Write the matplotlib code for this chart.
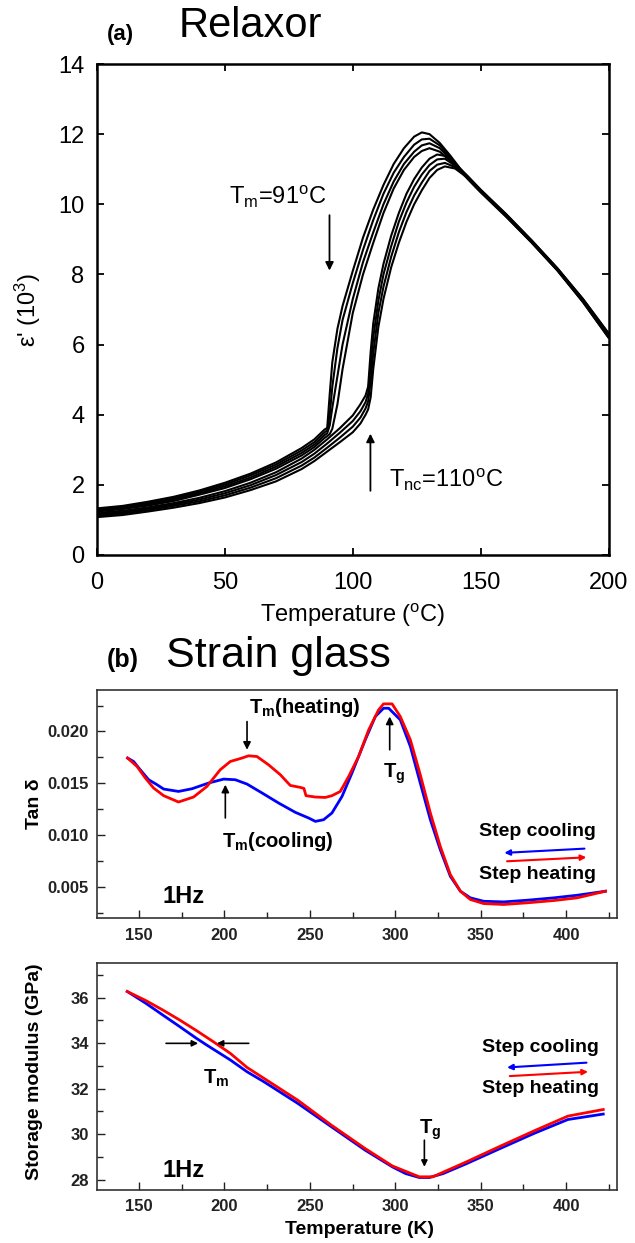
import matplotlib
matplotlib.use('Agg')
import matplotlib.pyplot as plt
from matplotlib.ticker import MultipleLocator, FormatStrFormatter

plt.rcParams['font.family'] = ['Liberation Sans', 'DejaVu Sans']
plt.rcParams['mathtext.fontset'] = 'custom'
plt.rcParams['mathtext.rm'] = 'Liberation Sans'
plt.rcParams['mathtext.it'] = 'Liberation Sans:italic'
plt.rcParams['mathtext.bf'] = 'Liberation Sans:bold'
plt.rcParams['mathtext.default'] = 'rm'

# ---- (a) relaxor: eps' vs T, two groups of frequency curves ----
T_up = [0, 10, 20, 30, 40, 50, 60, 70, 80, 85, 89, 90, 91, 92, 94, 96, 100, 104, 108, 112,
        116, 120, 124, 127, 130, 134, 138, 142, 146, 150, 160, 170, 180, 190, 200]
U1 = [1.33, 1.40, 1.52, 1.66, 1.84, 2.06, 2.32, 2.64, 3.05, 3.30, 3.58, 3.62, 4.60, 5.50, 6.45,
      7.10, 8.10, 9.05, 9.85, 10.55, 11.15, 11.60, 11.93, 12.05, 12.00, 11.75, 11.40, 11.02,
      10.70, 10.40, 9.70, 8.96, 8.17, 7.30, 6.32]
U2 = [1.30, 1.37, 1.48, 1.62, 1.80, 2.01, 2.27, 2.58, 2.98, 3.22, 3.50, 3.55, 4.00, 4.80, 5.90,
      6.70, 7.75, 8.70, 9.55, 10.30, 10.90, 11.35, 11.70, 11.85, 11.87, 11.68, 11.35, 11.00,
      10.68, 10.38, 9.68, 8.94, 8.15, 7.27, 6.28]
U3 = [1.27, 1.34, 1.45, 1.58, 1.76, 1.96, 2.21, 2.52, 2.91, 3.15, 3.42, 3.47, 3.70, 4.20, 5.10,
      6.00, 7.30, 8.35, 9.20, 10.00, 10.65, 11.15, 11.50, 11.68, 11.74, 11.60, 11.30, 10.98,
      10.66, 10.36, 9.66, 8.92, 8.13, 7.24, 6.24]
U4 = [1.24, 1.31, 1.41, 1.54, 1.72, 1.91, 2.16, 2.46, 2.84, 3.08, 3.34, 3.39, 3.45, 3.60, 4.30,
      5.30, 6.90, 8.00, 8.90, 9.75, 10.45, 10.98, 11.35, 11.52, 11.60, 11.50, 11.25, 10.95,
      10.64, 10.34, 9.64, 8.90, 8.11, 7.21, 6.20]

T_lo = [0, 10, 20, 30, 40, 50, 60, 70, 80, 85, 90, 95, 100, 103, 105, 106, 107, 108, 110, 112,
        115, 118, 121, 124, 127, 130, 133, 136, 140, 145, 150, 160, 170, 180, 190, 200]
L1 = [1.20, 1.26, 1.36, 1.48, 1.63, 1.82, 2.06, 2.36, 2.75, 3.00, 3.30, 3.62, 3.98, 4.30, 4.55,
      4.80, 5.80, 6.60, 7.60, 8.30, 9.10, 9.75, 10.30, 10.72, 11.05, 11.30, 11.42, 11.38, 11.15,
      10.80, 10.42, 9.72, 8.97, 8.18, 7.30, 6.32]
L2 = [1.16, 1.22, 1.32, 1.44, 1.58, 1.76, 1.99, 2.28, 2.65, 2.89, 3.18, 3.49, 3.82, 4.10, 4.36,
      4.60, 5.40, 6.20, 7.25, 8.00, 8.80, 9.50, 10.05, 10.50, 10.85, 11.12, 11.28, 11.30, 11.10,
      10.78, 10.40, 9.70, 8.95, 8.16, 7.27, 6.28]
L3 = [1.12, 1.18, 1.28, 1.40, 1.53, 1.70, 1.92, 2.19, 2.55, 2.78, 3.06, 3.35, 3.66, 3.92, 4.18,
      4.38, 4.95, 5.75, 6.90, 7.65, 8.50, 9.20, 9.78, 10.25, 10.62, 10.95, 11.13, 11.18, 11.06,
      10.77, 10.39, 9.68, 8.93, 8.14, 7.24, 6.24]
L4 = [1.08, 1.14, 1.24, 1.35, 1.48, 1.64, 1.85, 2.10, 2.45, 2.68, 2.95, 3.22, 3.50, 3.75, 4.00,
      4.15, 4.50, 5.30, 6.50, 7.30, 8.20, 8.90, 9.50, 10.00, 10.40, 10.75, 10.98, 11.08, 11.02,
      10.75, 10.38, 9.66, 8.91, 8.12, 7.22, 6.20]

# ---- (b) strain glass: tan delta ----
T_cool_tan = [143.3, 146.8, 150.7, 155.6, 160.5, 164.4, 173.1, 181.0, 190.7, 199.5, 206.3, 213.2,
              222.0, 231.7, 241.5, 249.2, 253.2, 258.0, 262.9, 268.8, 274.6, 282.4, 288.3, 293.1,
              296.1, 302.9, 308.8, 314.6, 320.5, 326.3, 332.2, 338.1, 343.9, 351.7, 363.4, 377.1,
              392.7, 406.4, 423.0]
tan_cool = [0.01743, 0.01710, 0.01630, 0.01534, 0.01486, 0.01444, 0.01421, 0.01447, 0.01502,
            0.01540, 0.01534, 0.01492, 0.01406, 0.01309, 0.01219, 0.01165, 0.01132, 0.01148,
            0.01213, 0.01373, 0.01598, 0.01919, 0.02144, 0.02224, 0.02224, 0.02112, 0.01855,
            0.01502, 0.01148, 0.00859, 0.00602, 0.00458, 0.00394, 0.00361, 0.00355, 0.00371,
            0.00394, 0.00419, 0.00458]
T_heat_tan = [143.3, 148.8, 153.7, 158.5, 164.4, 173.1, 181.9, 189.7, 197.5, 203.4, 210.2, 214.1,
              219.0, 225.8, 232.7, 238.5, 244.4, 246.5, 247.7, 253.2, 259.0, 262.9, 267.8, 272.7,
              278.5, 284.4, 290.2, 293.1, 298.1, 302.9, 308.8, 314.6, 320.5, 326.3, 332.2, 338.1,
              343.9, 351.7, 363.4, 377.1, 392.7, 406.4, 423.0]
tan_heat = [0.01743, 0.01662, 0.01550, 0.01454, 0.01380, 0.01319, 0.01367, 0.01469, 0.01630,
            0.01710, 0.01743, 0.01765, 0.01758, 0.01678, 0.01582, 0.01479, 0.01460, 0.01450,
            0.01380, 0.01367, 0.01363, 0.01380, 0.01421, 0.01566, 0.01758, 0.02015, 0.02208,
            0.02266, 0.02266, 0.02144, 0.01919, 0.01582, 0.01213, 0.00891, 0.00618, 0.00458,
            0.00378, 0.00339, 0.00330, 0.00346, 0.00368, 0.00394, 0.00458]

# ---- (b) strain glass: storage modulus ----
T_cool_E = [143.1, 154.0, 163.8, 173.7, 183.6, 189.5, 203.4, 213.2, 223.1, 242.9, 262.6, 282.4,
            298.2, 306.1, 314.0, 320.0, 327.9, 341.7, 361.5, 381.2, 401.0, 421.7]
E_cool = [36.27, 35.75, 35.24, 34.73, 34.21, 33.92, 33.26, 32.74, 32.30, 31.35, 30.32, 29.29,
          28.56, 28.26, 28.09, 28.09, 28.26, 28.70, 29.37, 30.03, 30.64, 30.88]
T_heat_E = [143.1, 154.0, 163.8, 173.7, 183.6, 193.5, 203.4, 213.2, 223.1, 242.9, 262.6, 282.4,
            298.2, 314.0, 321.9, 341.7, 361.5, 381.2, 401.0, 421.7]
E_heat = [36.27, 35.87, 35.46, 35.02, 34.55, 34.06, 33.55, 32.93, 32.45, 31.49, 30.39, 29.36,
          28.60, 28.12, 28.12, 28.78, 29.47, 30.14, 30.79, 31.08]

BLUE = '#0000ff'
RED = '#ff0000'


def arrow(ax, tail, head, color='k', lw=1.2, ms=11):
    ax.annotate('', xy=head, xytext=tail,
                arrowprops=dict(arrowstyle='-|>', color=color, lw=lw,
                                mutation_scale=ms, shrinkA=0, shrinkB=0))


def bold_ticks(ax):
    for lab in ax.get_xticklabels() + ax.get_yticklabels():
        lab.set_fontweight('bold')


fig = plt.figure(figsize=(6.35, 12.43), dpi=100)

# ================= panel (a) =================
ax1 = fig.add_axes([0.1528, 0.5535, 0.8055, 0.395])
for y in (U1, U2, U3, U4):
    ax1.plot(T_up, y, color='k', lw=1.5)
for y in (L1, L2, L3, L4):
    ax1.plot(T_lo, y, color='k', lw=1.5)
ax1.set_xlim(0, 200)
ax1.set_ylim(0, 14)
ax1.xaxis.set_major_locator(MultipleLocator(50))
ax1.yaxis.set_major_locator(MultipleLocator(2))
ax1.tick_params(direction='in', top=True, right=True, length=5, width=1.3, labelsize=17)
ax1.tick_params(axis='x', pad=12)
ax1.tick_params(axis='y', pad=9)
for s in ax1.spines.values():
    s.set_linewidth(1.8)
ax1.set_xlabel('Temperature ($^{\\rm o}$C)', fontsize=17)
ax1.xaxis.set_label_coords(0.5, -0.095)
ax1.set_ylabel("ε' (10$^3$)", fontsize=17)
ax1.yaxis.set_label_coords(-0.105, 0.5)

ax1.text(89.7, 10.0, 'T$_m$=91$^{\\rm o}$C', fontsize=17, ha='right', va='baseline')
arrow(ax1, (90.9, 9.69), (90.9, 8.11), lw=1.3, ms=12)
ax1.text(114.0, 1.95, 'T$_{nc}$=110$^{\\rm o}$C', fontsize=17, ha='left', va='baseline')
arrow(ax1, (106.9, 1.83), (106.9, 3.46), lw=1.3, ms=12)

fig.text(0.168, 0.968, '(a)', fontsize=16, fontweight='bold', ha='left', va='baseline')
fig.text(0.281, 0.970, 'Relaxor', fontsize=30, ha='left', va='baseline')
fig.text(0.168, 0.4634, '(b)', fontsize=18, fontweight='bold', ha='left', va='baseline')
fig.text(0.261, 0.4634, 'Strain glass', fontsize=31, ha='left', va='baseline')

# ================= panel (b) tan delta =================
ax2 = fig.add_axes([0.1528, 0.2615, 0.819, 0.1834])
ax2.plot(T_cool_tan, tan_cool, color=BLUE, lw=2)
ax2.plot(T_heat_tan, tan_heat, color=RED, lw=2)
ax2.set_xlim(125.4, 429.8)
ax2.set_ylim(0.002, 0.024)
ax2.xaxis.set_major_locator(MultipleLocator(50))
ax2.xaxis.set_minor_locator(MultipleLocator(25))
ax2.yaxis.set_major_locator(MultipleLocator(0.005))
ax2.yaxis.set_minor_locator(MultipleLocator(0.0025))
ax2.yaxis.set_major_formatter(FormatStrFormatter('%.3f'))
ax2.set_yticks([0.005, 0.010, 0.015, 0.020])
ax2.tick_params(which='both', direction='in', width=1.0, labelsize=12, colors='#222222')
ax2.tick_params(which='major', length=6)
ax2.tick_params(which='minor', length=4)
ax2.tick_params(axis='x', pad=7)
ax2.tick_params(axis='y', pad=6)
for s in ax2.spines.values():
    s.set_linewidth(1.2)
    s.set_color('#333333')
bold_ticks(ax2)
ax2.set_ylabel('Tan δ', fontsize=14, fontweight='bold')
ax2.yaxis.set_label_coords(-0.103, 0.5)

ax2.text(214.1, 0.02179, '$\\mathbf{T_m}$(heating)', fontsize=14.5, fontweight='bold',
         ha='left', va='baseline')
arrow(ax2, (213.2, 0.02095), (213.2, 0.01823))
ax2.text(198.5, 0.00888, '$\\mathbf{T_m}$(cooling)', fontsize=14.5, fontweight='bold',
         ha='left', va='baseline')
arrow(ax2, (200.5, 0.01165), (200.5, 0.01486))
ax2.text(293.0, 0.01553, '$\\mathbf{T_g}$', fontsize=14.5, ha='left', va='baseline')
arrow(ax2, (296.7, 0.01823), (296.7, 0.02144))
ax2.text(349.2, 0.00987, 'Step cooling', fontsize=14, fontweight='bold', ha='left', va='baseline')
ax2.text(349.2, 0.00580, 'Step heating', fontsize=14, fontweight='bold', ha='left', va='baseline')
arrow(ax2, (410.7, 0.00869), (363.8, 0.00828), color=BLUE, lw=1.5, ms=8)
arrow(ax2, (365.4, 0.00747), (411.8, 0.00785), color=RED, lw=1.5, ms=8)
ax2.text(164.0, 0.00349, '1Hz', fontsize=17, fontweight='bold', ha='left', va='baseline')

# ================= panel (b) storage modulus =================
ax3 = fig.add_axes([0.1528, 0.0430, 0.819, 0.1822])
ax3.plot(T_cool_E, E_cool, color=BLUE, lw=2)
ax3.plot(T_heat_E, E_heat, color=RED, lw=2)
ax3.set_xlim(125.4, 429.8)
ax3.set_ylim(27.56, 37.52)
ax3.xaxis.set_major_locator(MultipleLocator(50))
ax3.xaxis.set_minor_locator(MultipleLocator(25))
ax3.yaxis.set_major_locator(MultipleLocator(2))
ax3.yaxis.set_minor_locator(MultipleLocator(1))
ax3.tick_params(which='both', direction='in', width=1.0, labelsize=12, colors='#222222')
ax3.tick_params(which='major', length=6)
ax3.tick_params(which='minor', length=4)
ax3.tick_params(axis='x', pad=7)
ax3.tick_params(axis='y', pad=6)
for s in ax3.spines.values():
    s.set_linewidth(1.2)
    s.set_color('#333333')
bold_ticks(ax3)
ax3.set_ylabel('Storage modulus (GPa)', fontsize=14, fontweight='bold')
ax3.yaxis.set_label_coords(-0.103, 0.52)
ax3.set_xlabel('Temperature (K)', fontsize=14, fontweight='bold')
ax3.xaxis.set_label_coords(0.504, -0.14)

arrow(ax3, (165.8, 33.99), (184.6, 33.99), ms=9)
arrow(ax3, (214.2, 33.99), (195.5, 33.99), ms=9)
ax3.text(187.5, 32.23, '$\\mathbf{T_m}$', fontsize=14.5, ha='left', va='baseline')
ax3.text(314.0, 30.03, '$\\mathbf{T_g}$', fontsize=14.5, ha='left', va='baseline')
arrow(ax3, (317.0, 29.73), (317.0, 28.56), ms=9)
ax3.text(350.6, 33.62, 'Step cooling', fontsize=14, fontweight='bold', ha='left', va='baseline')
ax3.text(350.6, 31.79, 'Step heating', fontsize=14, fontweight='bold', ha='left', va='baseline')
arrow(ax3, (411.9, 33.14), (365.4, 32.93), color=BLUE, lw=1.5, ms=8)
arrow(ax3, (367.0, 32.55), (412.8, 32.74), color=RED, lw=1.5, ms=8)
ax3.text(163.8, 28.12, '1Hz', fontsize=17, fontweight='bold', ha='left', va='baseline')

fig.savefig('out.png', dpi=100)
